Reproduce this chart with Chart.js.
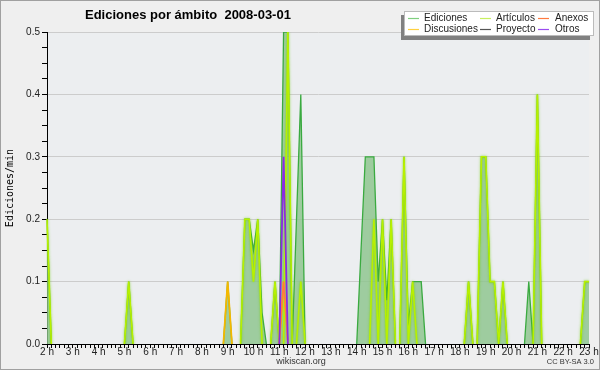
<!DOCTYPE html>
<html lang="es">
<head>
  <meta charset="UTF-8">
  <title>Ediciones por ámbito</title>
  <style>
    html, body { margin: 0; padding: 0; background: #efefef; }
    #wrap { width: 600px; height: 370px; }
  </style>
</head>
<body>

<div id="wrap">
  <canvas id="myChart" width="600" height="370"></canvas>
</div>

<script src="https://cdn.jsdelivr.net/npm/chart.js"></script>

<script>
  // eje x: una marca por hora, un punto cada 10 minutos
  const hourLabels = ['2 h', '3 h', '4 h', '5 h', '6 h', '7 h', '8 h', '9 h', '10 h', '11 h', '12 h',
                      '13 h', '14 h', '15 h', '16 h', '17 h', '18 h', '19 h', '20 h', '21 h', '22 h', '23 h'];
  const minuteLabels = ['00', '10', '20', '30', '40', '50'];

  // ediciones/min, una fila por hora (2 h ... 22 h) y el punto final de las 23 h
  const ediciones = [
    0.2, 0, 0, 0, 0, 0,
    0, 0, 0, 0, 0, 0,
    0, 0, 0, 0, 0, 0,
    0, 0.1, 0, 0, 0, 0,
    0, 0, 0, 0, 0, 0,
    0, 0, 0, 0, 0, 0,
    0, 0, 0, 0, 0, 0,
    0.1, 0, 0, 0, 0.2, 0.2,
    0.15, 0.2, 0.05, 0, 0, 0.1,
    0, 0.5, 0.5, 0, 0.2, 0.4,
    0, 0, 0, 0, 0, 0,
    0, 0, 0, 0, 0, 0,
    0, 0.15, 0.3, 0.3, 0.3, 0.1,
    0.2, 0.07, 0.2, 0, 0, 0.3,
    0.03, 0.1, 0.1, 0.1, 0, 0,
    0, 0, 0, 0, 0, 0,
    0, 0, 0.1, 0, 0, 0.3,
    0.3, 0.1, 0.1, 0, 0.1, 0,
    0, 0, 0, 0, 0.1, 0,
    0.4, 0, 0, 0, 0, 0,
    0, 0, 0, 0, 0, 0.1,
    0.1
  ];
  const articulos = [
    0.2, 0, 0, 0, 0, 0,
    0, 0, 0, 0, 0, 0,
    0, 0, 0, 0, 0, 0,
    0, 0.1, 0, 0, 0, 0,
    0, 0, 0, 0, 0, 0,
    0, 0, 0, 0, 0, 0,
    0, 0, 0, 0, 0, 0,
    0, 0, 0, 0, 0.2, 0.2,
    0.1, 0.2, 0, 0, 0, 0.1,
    0, 0, 0.5, 0, 0, 0.1,
    0, 0, 0, 0, 0, 0,
    0, 0, 0, 0, 0, 0,
    0, 0, 0, 0, 0.2, 0,
    0.2, 0, 0.2, 0, 0, 0.3,
    0, 0.1, 0, 0, 0, 0,
    0, 0, 0, 0, 0, 0,
    0, 0, 0.1, 0, 0, 0.3,
    0.3, 0.1, 0.1, 0, 0.1, 0,
    0, 0, 0, 0, 0, 0,
    0.4, 0, 0, 0, 0, 0,
    0, 0, 0, 0, 0, 0.1,
    0.1
  ];
  // ámbitos casi vacíos: solo los cortes con actividad (índice de 10 min -> valor)
  const discusiones = { 42: 0.1, 55: 0.1 };
  const anexos = { 55: 0.1 };
  const proyecto = {};
  const otros = { 55: 0.3 };

  const labels = [];
  hourLabels.forEach((h, i) => {
    if (i < hourLabels.length - 1) minuteLabels.forEach(m => labels.push(h + ' ' + m));
    else labels.push(h + ' 00');
  });
  const fillSeries = (obj) => labels.map((_, i) => obj[i] || 0);

  // no dibujar los tramos que van pegados al cero
  const hideFlat = { borderColor: ctx => (ctx.p0.parsed.y === 0 && ctx.p1.parsed.y === 0) ? 'rgba(0,0,0,0)' : undefined };

  const data = {
    labels: labels,
    datasets: [
      { label: 'Ediciones', data: ediciones, borderColor: '#3aaa40', backgroundColor: 'rgba(140,196,140,0.82)',
        fill: 'origin', borderWidth: 1.3, order: 3, legendColor: '#7fcf7f' },
      { label: 'Artículos', data: articulos, borderColor: '#b8f000', borderWidth: 1.6, order: 2, glow: true,
        legendColor: '#c8f060' },
      { label: 'Anexos', data: fillSeries(anexos), borderColor: '#ff7a40', borderWidth: 1.5, order: 1, legendColor: '#ff7a40' },
      { label: 'Discusiones', data: fillSeries(discusiones), borderColor: '#f5b800', borderWidth: 1.8, order: 1, legendColor: '#ffd040' },
      { label: 'Proyecto', data: fillSeries(proyecto), borderColor: '#555555', borderWidth: 1.5, order: 1, legendColor: '#555555' },
      { label: 'Otros', data: fillSeries(otros), borderColor: '#8a2be2', borderWidth: 1.8, order: 0, legendColor: '#9a4cf0' }
    ]
  };
  data.datasets.forEach(ds => {
    ds.pointRadius = 0;
    ds.tension = 0;
    ds.segment = hideFlat;
    if (!ds.fill) ds.fill = false;
  });

  const legendRows = [['Ediciones', 'Artículos', 'Anexos'], ['Discusiones', 'Proyecto', 'Otros']];

  const isMajor = v => Math.abs(v * 10 - Math.round(v * 10)) < 1e-6;

  const decor = {
    id: 'decor',
    beforeDraw(chart) {
      const { ctx, chartArea: a } = chart;
      ctx.save();
      ctx.fillStyle = '#efefef';
      ctx.fillRect(0, 0, chart.width, chart.height);
      ctx.fillStyle = '#eceef0';
      ctx.fillRect(a.left, a.top, a.right - a.left, a.bottom - a.top);
      ctx.restore();
    },
    beforeDatasetDraw(chart, args) {
      if (args.meta._dataset.glow) {
        chart.ctx.save();
        chart.ctx.shadowColor = 'rgba(110,205,0,0.8)';
        chart.ctx.shadowBlur = 2.5;
      }
    },
    afterDatasetDraw(chart, args) {
      if (args.meta._dataset.glow) chart.ctx.restore();
    },
    afterDraw(chart) {
      const ctx = chart.ctx;
      ctx.save();
      // título
      ctx.fillStyle = '#000';
      ctx.font = 'bold 13px "Liberation Sans", sans-serif';
      ctx.textBaseline = 'middle';
      ctx.fillText('Ediciones por ámbito  2008-03-01', 85, 15);

      // leyenda
      ctx.fillStyle = '#808080';
      ctx.fillRect(401, 15, 189, 25);
      ctx.fillStyle = '#ffffff';
      ctx.fillRect(404, 11, 190, 25);
      ctx.strokeStyle = '#bbbbbb';
      ctx.lineWidth = 1;
      ctx.strokeRect(404.5, 11.5, 189, 24);
      const colX = [[408, 424], [480, 496], [538, 555]];
      const rowY = [18.5, 29.5];
      ctx.font = '10px "Liberation Sans", sans-serif';
      legendRows.forEach((row, r) => {
        row.forEach((name, c) => {
          const ds = chart.data.datasets.find(d => d.label === name);
          ctx.strokeStyle = ds.legendColor;
          ctx.lineWidth = 1.2;
          ctx.beginPath();
          ctx.moveTo(colX[c][0], rowY[r]);
          ctx.lineTo(colX[c][0] + 11, rowY[r]);
          ctx.stroke();
          ctx.fillStyle = '#222';
          ctx.fillText(name, colX[c][1], rowY[r]);
        });
      });

      // pie
      ctx.fillStyle = '#333';
      ctx.font = '9px "Liberation Sans", sans-serif';
      ctx.textAlign = 'center';
      ctx.fillText('wikiscan.org', 301, 362);
      ctx.font = '7.5px "Liberation Sans", sans-serif';
      ctx.textAlign = 'right';
      ctx.fillText('CC BY-SA 3.0', 594, 362);

      // marco
      ctx.strokeStyle = '#a0a0a0';
      ctx.lineWidth = 1;
      ctx.strokeRect(0.5, 0.5, chart.width - 1, chart.height - 1);
      ctx.restore();
    }
  };

  const ctx = document.getElementById('myChart').getContext('2d');
  const myChart = new Chart(ctx, {
    type: 'line',
    data: data,
    options: {
      responsive: false,
      animation: false,
      layout: { padding: { left: 0, right: 11, top: 32, bottom: 0 } },
      plugins: { legend: { display: false }, title: { display: false }, tooltip: { enabled: false } },
      scales: {
        x: {
          offset: false,
          afterFit: s => { s.height = 26; },
          border: { color: '#000', width: 1 },
          grid: { drawOnChartArea: false, tickLength: 4, tickColor: '#000' },
          ticks: {
            autoSkip: false, maxRotation: 0, minRotation: 0, padding: -2,
            color: '#222', font: { family: 'Liberation Sans', size: 10 },
            callback: (v, i) => i % minuteLabels.length === 0 ? hourLabels[i / minuteLabels.length] : ''
          }
        },
        y: {
          min: 0, max: 0.5,
          afterFit: s => { s.width = 47; },
          border: { color: '#000', width: 1 },
          grid: {
            color: c => isMajor(c.tick.value) ? '#cccccc' : 'rgba(0,0,0,0)',
            tickColor: '#000', tickLength: 5
          },
          ticks: {
            stepSize: 0.025, autoSkip: false, padding: 2,
            color: '#222', font: { family: 'Liberation Sans', size: 10 },
            callback: v => isMajor(v) ? v.toFixed(1) : ''
          },
          title: {
            display: true, text: 'Ediciones/min', color: '#000',
            font: { family: 'DejaVu Sans Mono', size: 10 }, padding: { top: 4, bottom: 0 }
          }
        }
      }
    },
    plugins: [decor]
  });
</script>
</body>
</html>
